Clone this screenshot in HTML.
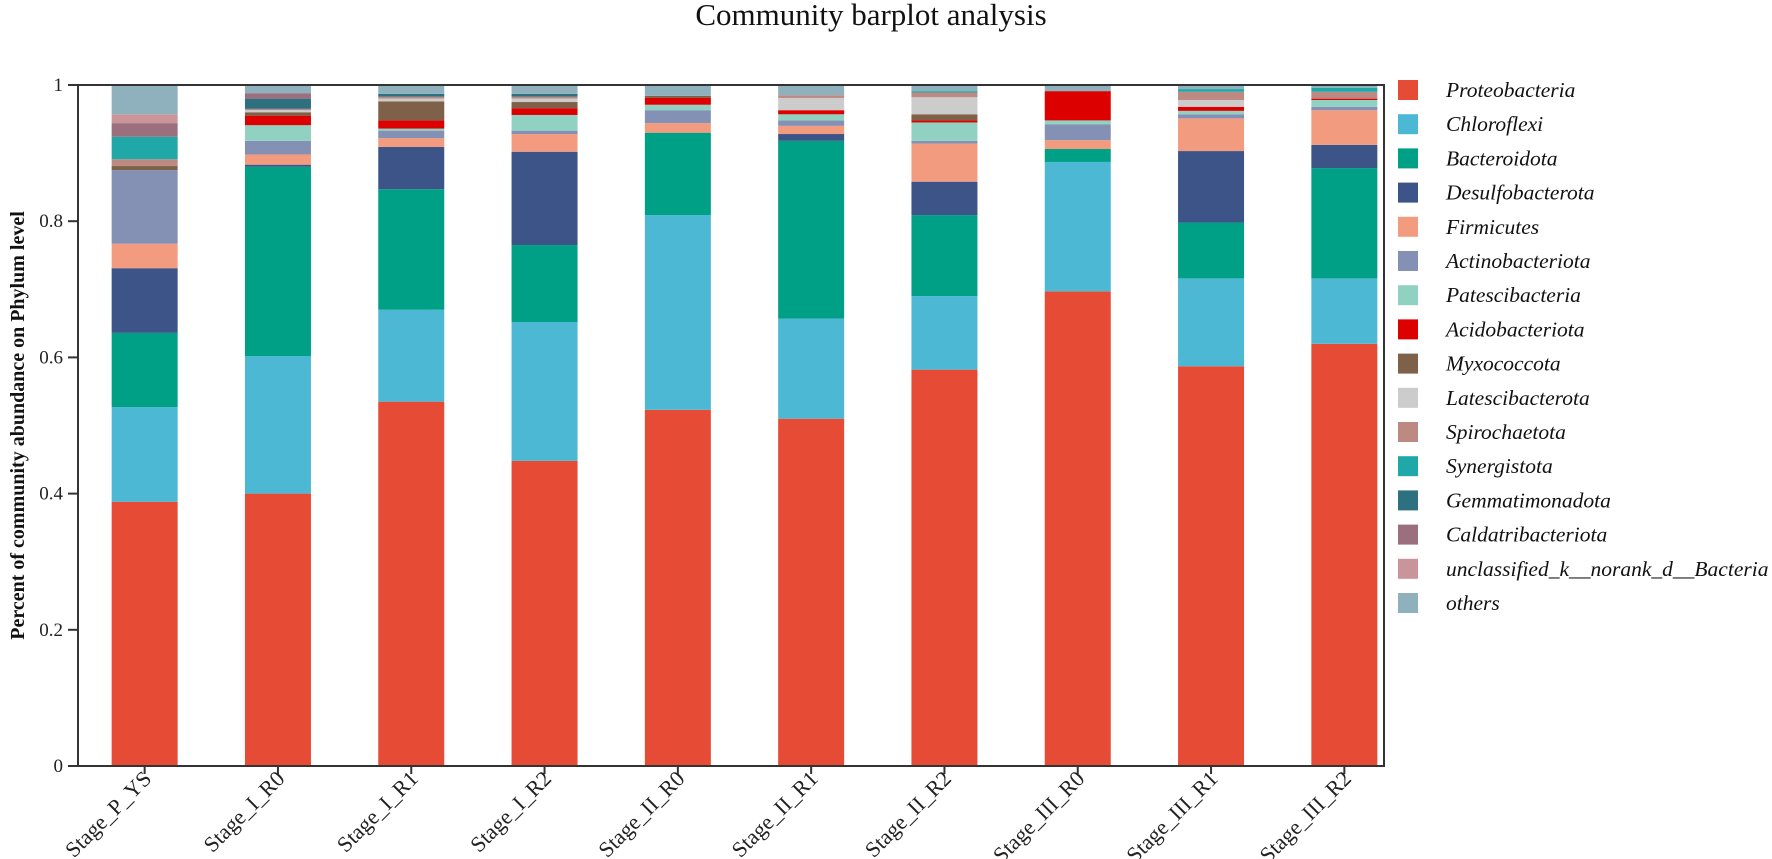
<!DOCTYPE html>
<html><head><meta charset="utf-8"><style>
html,body{margin:0;padding:0;background:#fff;}
svg{display:block;font-family:"Liberation Serif",serif;}
</style></head><body>
<svg id="chart" width="1772" height="859" viewBox="0 0 1772 859">
<text x="871" y="25" font-size="31" text-anchor="middle" fill="#111">Community barplot analysis</text>
<g id="plot"></g>
<g id="legend"></g>
</svg>
<script>
const samples = ["Stage_P_YS","Stage_I_R0","Stage_I_R1","Stage_I_R2","Stage_II_R0","Stage_II_R1","Stage_II_R2","Stage_III_R0","Stage_III_R1","Stage_III_R2"];
const taxa = ["Proteobacteria","Chloroflexi","Bacteroidota","Desulfobacterota","Firmicutes","Actinobacteriota","Patescibacteria","Acidobacteriota","Myxococcota","Latescibacterota","Spirochaetota","Synergistota","Gemmatimonadota","Caldatribacteriota","unclassified_k__norank_d__Bacteria","others"];
const colors = ["#e64b35","#4db8d4","#00a087","#3c5488","#f39b7f","#8491b4","#91d1c2","#dc0000","#7e6148","#cccccc","#bc8a83","#20a8a8","#2e6f80","#9c6f7f","#c9949a","#8fb0bd"];
const proteobacteria   = [0.388,0.400,0.535,0.448,0.523,0.510,0.582,0.697,0.587,0.620];
const chloroflexi      = [0.139,0.202,0.135,0.204,0.286,0.147,0.108,0.190,0.129,0.096];
const bacteroidota     = [0.109,0.278,0.177,0.113,0.121,0.261,0.119,0.019,0.082,0.162];
const desulfobacterota = [0.095,0.003,0.062,0.137,0.000,0.010,0.049,0.000,0.105,0.034];
const firmicutes       = [0.036,0.015,0.013,0.026,0.014,0.012,0.056,0.013,0.048,0.051];
const actinobacteriota = [0.108,0.020,0.011,0.005,0.019,0.008,0.004,0.023,0.006,0.005];
const patescibacteria  = [0.000,0.023,0.003,0.023,0.008,0.009,0.027,0.006,0.005,0.010];
const acidobacteriota  = [0.000,0.014,0.012,0.010,0.010,0.006,0.003,0.043,0.006,0.002];
const myxococcota      = [0.006,0.005,0.028,0.009,0.003,0.000,0.009,0.000,0.000,0.000];
const latescibacterota = [0.000,0.003,0.004,0.005,0.000,0.018,0.025,0.000,0.010,0.000];
const spirochaetota    = [0.010,0.002,0.003,0.003,0.000,0.004,0.007,0.000,0.012,0.010];
const synergistota     = [0.033,0.000,0.000,0.000,0.000,0.000,0.002,0.000,0.004,0.006];
const gemmatimonadota  = [0.000,0.015,0.004,0.004,0.000,0.000,0.000,0.000,0.000,0.000];
const caldatribacteriota = [0.020,0.008,0.000,0.000,0.000,0.000,0.000,0.000,0.000,0.000];
const unclassified     = [0.013,0.000,0.000,0.000,0.000,0.000,0.000,0.000,0.000,0.000];
const others           = [0.043,0.012,0.013,0.013,0.016,0.015,0.009,0.009,0.006,0.004];
const yTicks = [0,0.2,0.4,0.6,0.8,1];
const yTickLabels = ["0","0.2","0.4","0.6","0.8","1"];

const series = [proteobacteria,chloroflexi,bacteroidota,desulfobacterota,firmicutes,actinobacteriota,patescibacteria,acidobacteriota,myxococcota,latescibacterota,spirochaetota,synergistota,gemmatimonadota,caldatribacteriota,unclassified,others];
const NS = "http://www.w3.org/2000/svg";
const X0 = 78, XR = 1384, Y0 = 766, Y1 = 85;
const band = 133.3;
const barW = 66;
function xCenter(i){ return X0 + band * (i + 0.5); }
function yScale(v){ return Y0 - v * (Y0 - Y1); }
function mk(tag, attrs, parent){ const e = document.createElementNS(NS, tag); for (const k in attrs) e.setAttribute(k, attrs[k]); parent.appendChild(e); return e; }
const plot = document.getElementById('plot');

samples.forEach((s, i) => {
  const g = mk('g', {}, plot);
  
  
  let cum = 0;
  series.forEach((arr, k) => {
    const v = arr[i];
    if (v <= 0) { return; }
    const yt = yScale(cum + v), yb = yScale(cum);
    const r = mk('rect', {x: xCenter(i) - barW / 2, y: yt, width: barW, height: yb - yt, fill: colors[k]}, g);
    
    
    cum += v;
  });
});

const frame = mk('path', {d: `M${X0},${Y1} H${XR} V${Y0} H${X0} Z`, fill: 'none', stroke: '#333', 'stroke-width': 2}, plot);


yTicks.forEach((t, j) => {
  const y = yScale(t);
  const tk = mk('line', {x1: X0 - 10, x2: X0, y1: y, y2: y, stroke: '#333', 'stroke-width': 2}, plot);
  
  
  const lb = mk('text', {x: X0 - 15, y: y + 6, 'font-size': 19, 'text-anchor': 'end', fill: '#222'}, plot);
  lb.textContent = yTickLabels[j];
  
  
});
samples.forEach((s, i) => {
  const x = xCenter(i);
  const tk = mk('line', {x1: x, x2: x, y1: Y0, y2: Y0 + 8, stroke: '#333', 'stroke-width': 2}, plot);
  
  
  const lb = mk('text', {x: x + 8, y: Y0 + 14, 'font-size': 22, 'text-anchor': 'end', fill: '#222', transform: `rotate(-45 ${x + 8} ${Y0 + 14})`}, plot);
  lb.textContent = s;
  
  
});
const yt = mk('text', {x: 0, y: 0, 'font-size': 20, 'font-weight': 'bold', 'text-anchor': 'middle', fill: '#111', transform: `translate(24 ${(Y0 + Y1) / 2}) rotate(-90)`}, plot);
yt.textContent = 'Percent of community abundance on Phylum level';



const legend = document.getElementById('legend');
taxa.forEach((t, k) => {
  const cy = 90 + 34.2 * k;
  const g = mk('g', {}, legend);
  
  
  mk('rect', {x: 1398, y: cy - 10, width: 20, height: 20, fill: colors[k]}, g);
  const tx = mk('text', {x: 1446, y: cy + 7, 'font-size': 21.5, 'font-style': 'italic', fill: '#111'}, g);
  tx.textContent = t;
});
</script>
</body></html>
